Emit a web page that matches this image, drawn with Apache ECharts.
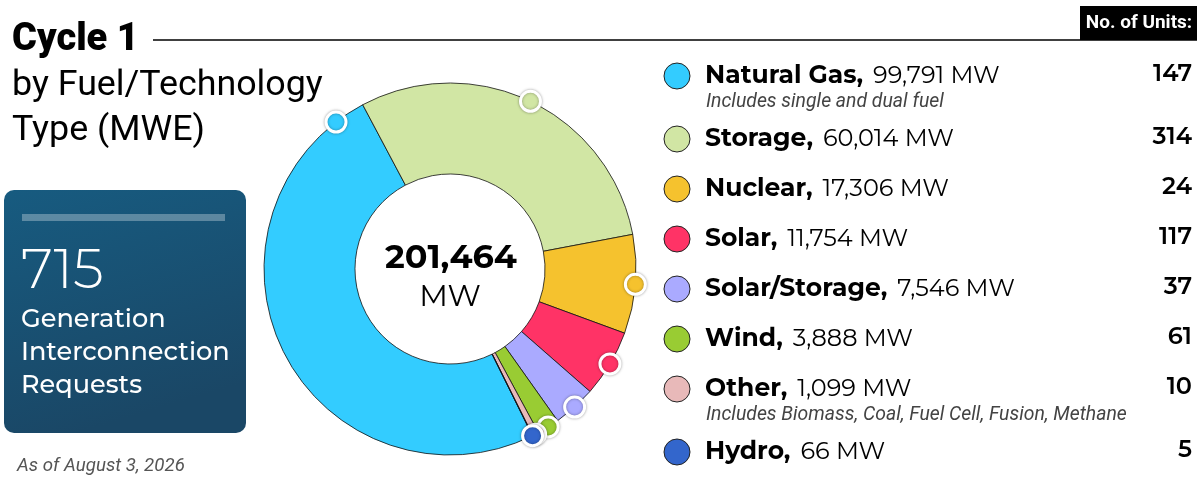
<!DOCTYPE html>
<html><head><meta charset="utf-8">
<script src="https://cdn.jsdelivr.net/npm/echarts@6/dist/echarts.min.js"></script>
<style>html,body{margin:0;padding:0;background:#fff}#c{width:1200px;height:480px}</style>
</head><body><div id="c"></div>
<script>
const categories = ['Natural Gas','Storage','Nuclear','Solar','Solar/Storage','Wind','Other','Hydro'];
const valuesMW = [99791,60014,17306,11754,7546,3888,1099,66];
const units = [147,314,24,117,37,61,10,5];
const notes = ['Includes single and dual fuel','','','','','','Includes Biomass, Coal, Fuel Cell, Fusion, Methane',''];
const colors = ['#33ccff','#d1e6a4','#f5c22e','#ff3366','#aaaaff','#99cc33','#e8b9b9','#3366cc'];
const dotFrac = [0.945,0.5,0.5,0.5,0.5,0.5,0.5,0.5];
const asOf = 'As of August 3, 2026';

const total = valuesMW.reduce((a,b)=>a+b,0);
const totalUnits = units.reduce((a,b)=>a+b,0);
const fmt = v => v.toLocaleString('en-US');

const CX = 450, CY = 269, R_IN = 95, R_OUT = 186, START = -63.7;
const LF = 'Montserrat, "DejaVu Sans", sans-serif';

let cum = 0;
const dots = valuesMW.map((v,i)=>{
  const a = cum + v*dotFrac[i]; cum += v;
  return {value:[1,a], itemStyle:{color:colors[i]}};
});

const g = [];
g.push({type:'text', style:{text:'Cycle 1', x:12, y:40, font:'900 38px Roboto', fill:'#000', verticalAlign:'middle'}});
g.push({type:'line', shape:{x1:153,y1:40,x2:1197,y2:40}, style:{stroke:'#000', lineWidth:1.5}});
g.push({type:'text', style:{text:'by Fuel/Technology', x:12, y:86, font:'35.8px Roboto', fill:'#000', verticalAlign:'middle'}});
g.push({type:'text', style:{text:'Type (MWE)', x:12, y:131, font:'35.8px Roboto', fill:'#000', verticalAlign:'middle'}});
g.push({type:'rect', shape:{x:1080,y:6,width:117,height:34}, style:{fill:'#000'}});
g.push({type:'text', style:{text:'No. of Units:', x:1139, y:23, font:'bold 19px "Liberation Sans Narrow", "Roboto"', fill:'#fff', align:'center', verticalAlign:'middle'}});
g.push({type:'rect', shape:{x:4,y:190,width:242,height:243,r:10},
  style:{fill:new echarts.graphic.LinearGradient(0,0,0.3,1,[{offset:0,color:'#175b80'},{offset:1,color:'#1a4766'}])}});
g.push({type:'rect', shape:{x:22,y:214,width:203,height:7}, style:{fill:'rgba(255,255,255,0.3)'}});
g.push({type:'text', style:{text:String(totalUnits), x:21, y:272, font:'300 55px '+LF, fill:'#fff', verticalAlign:'middle'}});
['Generation','Interconnection','Requests'].forEach((t,i)=>{
  g.push({type:'text', style:{text:t, x:21, y:319+i*33, font:'500 25.6px '+LF, fill:'#fff', verticalAlign:'middle'}});
});
g.push({type:'text', style:{text:asOf, x:17, y:466, font:'italic 18.7px Roboto', fill:'#555', verticalAlign:'middle'}});
g.push({type:'text', style:{text:fmt(total), x:CX+1, y:258, font:'bold 33.5px '+LF, fill:'#000', align:'center', verticalAlign:'middle'}});
g.push({type:'text', style:{text:'MW', x:CX, y:297, font:'30px '+LF, fill:'#000', align:'center', verticalAlign:'middle'}});
let y = 76;
categories.forEach((c,i)=>{
  g.push({type:'circle', shape:{cx:677, cy:y, r:13}, style:{fill:colors[i], stroke:'#222', lineWidth:1}});
  g.push({type:'text', style:{text:'{b|'+c+',}{s| }{r|'+fmt(valuesMW[i])+' MW}', x:705, y:y, verticalAlign:'middle',
    rich:{b:{font:'bold 25px '+LF, fill:'#000'}, s:{font:'24px '+LF, width:10}, r:{font:'24px '+LF, fill:'#000'}}}});
  g.push({type:'text', style:{text:String(units[i]), x:1192, y:y-2, font:'600 24px '+LF, fill:'#000', align:'right', verticalAlign:'middle'}});
  if (notes[i]) {
    g.push({type:'text', style:{text:notes[i], x:706, y:y+26, font:'italic 19.4px Roboto', fill:'#444', verticalAlign:'middle'}});
    y += 13;
  }
  y += 50;
});

const chart = echarts.init(document.getElementById('c'));
chart.setOption({
  animation:false,
  polar:{center:[CX,CY], radius:R_OUT},
  angleAxis:{type:'value', min:0, max:total, startAngle:START, clockwise:true, show:false},
  radiusAxis:{type:'value', min:0, max:1, show:false},
  series:[
    {type:'pie', center:[CX,CY], radius:[R_IN,R_OUT], startAngle:START, clockwise:true, label:{show:false}, labelLine:{show:false},
      emphasis:{disabled:true}, silent:true,
      itemStyle:{borderColor:'#111', borderWidth:0.8},
      data:categories.map((c,i)=>({name:c, value:valuesMW[i], itemStyle:{color:colors[i]}}))},
    {type:'scatter', coordinateSystem:'polar', symbolSize:20, silent:true, z:5,
      itemStyle:{opacity:1, borderColor:'#fff', borderWidth:3, shadowBlur:3, shadowColor:'rgba(0,0,0,0.35)'},
      data:dots}
  ],
  graphic:g
});
</script></body></html>
